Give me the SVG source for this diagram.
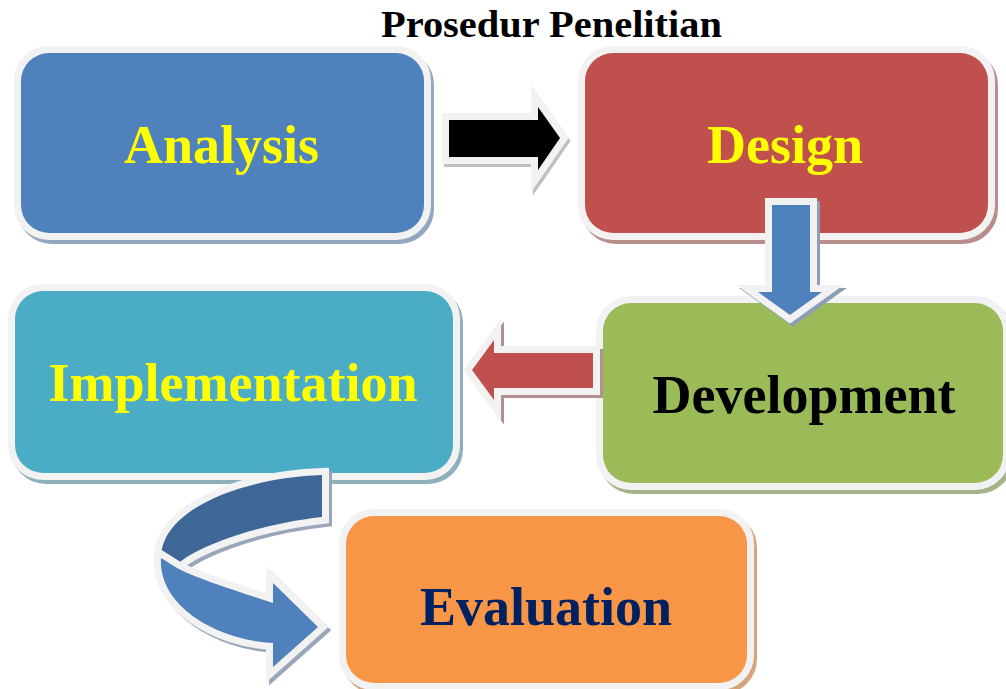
<svg xmlns="http://www.w3.org/2000/svg" width="1006" height="689" viewBox="0 0 1006 689">
<style>
.box{stroke:#F2F2F2;stroke-width:14;paint-order:stroke}
.shd{stroke-width:14}
.arw{stroke:#F2F2F2;stroke-width:14;stroke-linejoin:miter;stroke-miterlimit:10;paint-order:stroke}
.ashd{stroke-width:14;stroke-linejoin:miter;stroke-miterlimit:10}
.lbl{font-family:"Liberation Serif","Times New Roman",serif;font-weight:bold;font-size:54px;text-anchor:middle}
.title{font-family:"Liberation Serif","Times New Roman",serif;font-weight:bold;font-size:37px;text-anchor:middle}
</style>
<rect width="1006" height="689" fill="#FFFFFF"/>
<text class="title" x="551.5" y="37" textLength="341" lengthAdjust="spacingAndGlyphs" fill="#000000">Prosedur Penelitian</text>

<g id="analysis">
<rect class="shd" x="24" y="57" width="403" height="180" rx="28" fill="#93A6C0" stroke="#93A6C0"/>
<rect class="box" x="21" y="53" width="403" height="180" rx="28" fill="#4F81BD"/>
<text class="lbl" x="221.5" y="163" fill="#FFFF00">Analysis</text>
</g>

<g id="design">
<rect class="shd" x="588" y="57" width="403" height="180" rx="28" fill="#B88E8D" stroke="#B88E8D"/>
<rect class="box" x="585" y="53" width="403" height="180" rx="28" fill="#C0504D"/>
<text class="lbl" x="785" y="163" fill="#FFFF00">Design</text>
</g>

<g id="implementation">
<rect class="shd" x="18" y="295" width="438" height="182" rx="28" fill="#8FB0BB" stroke="#8FB0BB"/>
<rect class="box" x="15" y="291" width="438" height="182" rx="28" fill="#4BACC6"/>
<text class="lbl" x="233" y="401" fill="#FFFF00">Implementation</text>
</g>

<g id="development">
<rect class="shd" x="606" y="307" width="400" height="180" rx="28" fill="#A5B28A" stroke="#A5B28A"/>
<rect class="box" x="603" y="303" width="400" height="180" rx="28" fill="#9BBB59"/>
<text class="lbl" x="804" y="413" fill="#000000">Development</text>
</g>

<g id="evaluation">
<rect class="shd" x="349" y="520" width="401" height="167" rx="28" fill="#D7A37C" stroke="#D7A37C"/>
<rect class="box" x="346" y="516" width="401" height="167" rx="28" fill="#F79646"/>
<text class="lbl" x="546" y="625" fill="#002060">Evaluation</text>
</g>

<g id="connectors">
<g id="arrow-analysis-design">
<polygon class="ashd" transform="translate(2,3)" points="449,120 538,120 538,107 560,138 538,170 538,157 449,157" fill="#BFBFBF" stroke="#BFBFBF"/>
<polygon class="arw" points="449,120 538,120 538,107 560,138 538,170 538,157 449,157" fill="#000000"/>
</g>
<g id="arrow-design-development">
<polygon class="ashd" transform="translate(3,3)" points="772,205 810,205 810,292 822,292 790,315 758,292 772,292" fill="#8D9DB5" stroke="#8D9DB5"/>
<polygon class="arw" points="772,205 810,205 810,292 822,292 790,315 758,292 772,292" fill="#4F81BD"/>
</g>
<g id="arrow-development-implementation">
<polygon class="ashd" transform="translate(3,3)" points="593,353 494,353 494,340 472,370 494,400 494,388 593,388" fill="#B09090" stroke="#B09090"/>
<polygon class="arw" points="593,353 494,353 494,340 472,370 494,400 494,388 593,388" fill="#C0504D"/>
</g>
<g id="arrow-implementation-evaluation">
<path class="ashd" transform="translate(3,3)" d="M322,475 C240,478 161,510 161,558 L177,565 C190,550 250,525 322,517 Z" fill="#98A6BA" stroke="#98A6BA"/>
<path class="arw" d="M322,475 C240,478 161,510 161,558 L177,565 C190,550 250,525 322,517 Z" fill="#3E6798"/>
<path class="ashd" transform="translate(3,3)" d="M161,558 C158,605 215,640 273,643 L273,667 L318,627 L273,583 L273,603 C240,592 195,578 177,568 Z" fill="#98A6BA" stroke="#98A6BA"/>
<path class="arw" d="M161,558 C158,605 215,640 273,643 L273,667 L318,627 L273,583 L273,603 C240,592 195,578 177,568 Z" fill="#4F81BD"/>
</g>
</g>
</svg>
